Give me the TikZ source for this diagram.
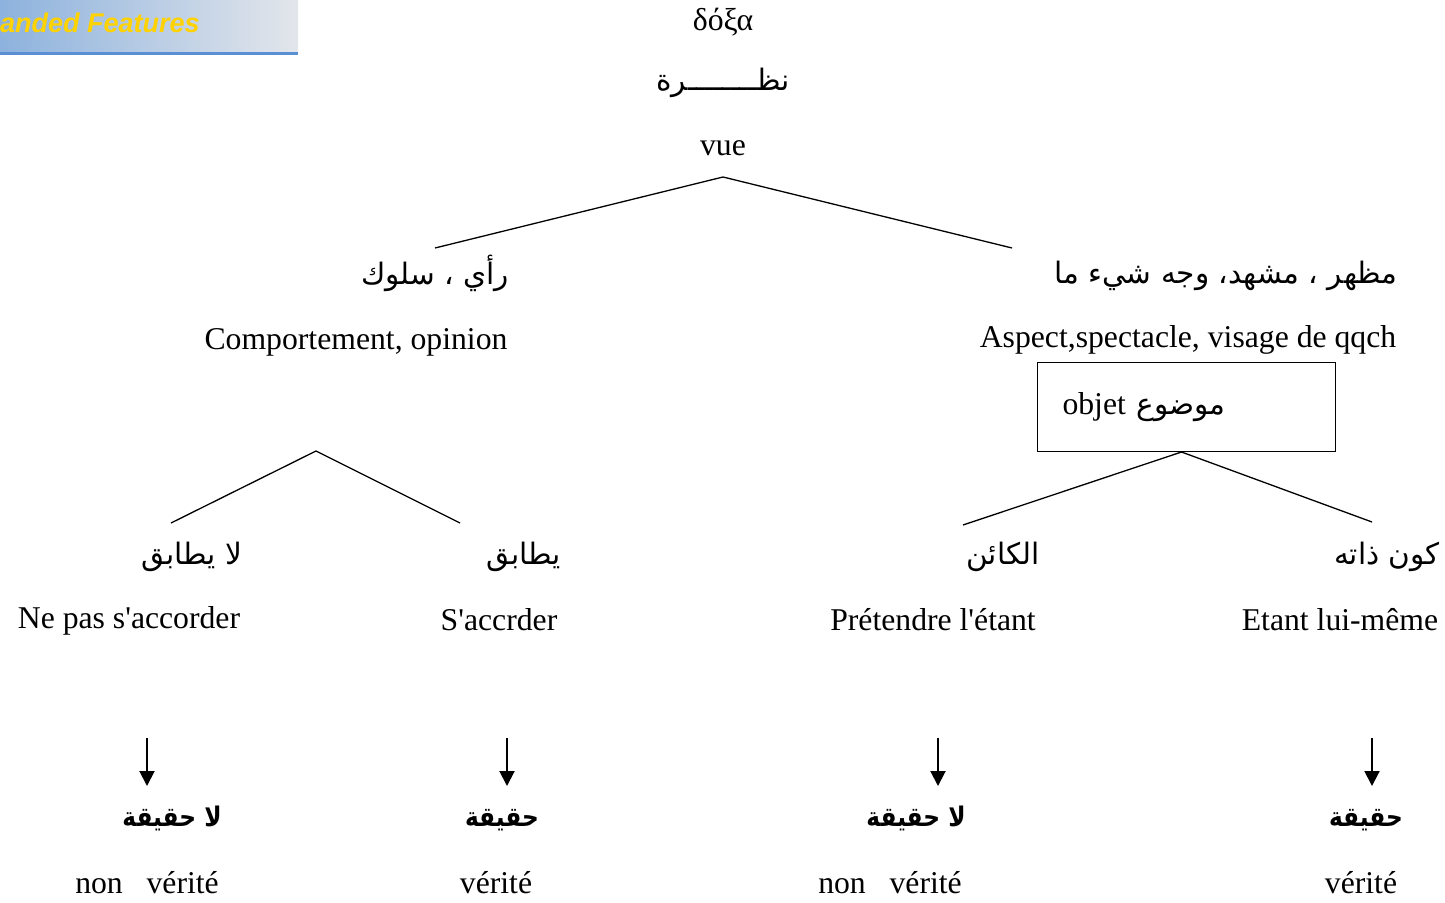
\documentclass[tikz,border=0pt]{standalone}
\usepackage{fontspec}
\setmainfont{Liberation Serif}
\newfontfamily\arabicfont[Script=Arabic]{DejaVu Sans}
\newfontfamily\arabicbold[Script=Arabic,FakeStretch=0.86]{DejaVu Sans Bold}
\newfontfamily\bannerfont{Liberation Sans}
\TeXXeTstate=1
\usetikzlibrary{arrows.meta}
\definecolor{bannerleft}{HTML}{8DB2DD}
\definecolor{bannerright}{HTML}{E3E6EB}
\definecolor{bannerline}{HTML}{5B8FD4}
\definecolor{bannertext}{HTML}{FFD200}
\newcommand{\q}{\textquotesingle}
\begin{document}
\begin{tikzpicture}[x=1pt,y=-1pt,
  lat/.style={font=\fontsize{31.7}{36}\selectfont, inner sep=0pt, anchor=base},
  ar/.style={font=\arabicfont\fontsize{29.5}{34}\selectfont, inner sep=0pt, anchor=base},
  arb/.style={font=\arabicbold\fontsize{27}{31}\selectfont, inner sep=0pt, anchor=base},
  branch/.style={line width=1.3pt},
  down/.style={line width=2pt, -{Triangle[width=15pt,length=15pt]}},
  objbox/.style={draw, line width=1pt, anchor=north west, minimum width=298pt,
    minimum height=89pt, text width=248pt, inner xsep=25pt, align=left,
    font=\fontsize{31.7}{36}\selectfont}]
\useasboundingbox (0,0) rectangle (1445,902);
\fill[white] (0,0) rectangle (1445,902);

% header banner
\shade[left color=bannerleft, right color=bannerright] (0,0) rectangle (298,52);
\fill[bannerline] (0,52) rectangle (298,55);
\node[font=\bannerfont\bfseries\itshape\fontsize{27}{30}\selectfont, text=bannertext,
  inner sep=0pt, anchor=base west] (banner) at (0,32) {anded Features};

% root
\node[lat] (doxa) at (723,30) {δόξα};
\node[ar] (nazra) at (723,90) {\beginR نظــــــــرة\endR};
\node[lat] (vue) at (723,155) {vue};
\coordinate (top) at (723,177);

% first level
\node[ar] (rai) at (435,284) {\beginR رأي ، سلوك\endR};
\node[lat] (comp) at (356,349) {Comportement, opinion};
\node[ar] (mazhar) at (1226,283) {\beginR مظهر ، مشهد، وجه شيء ما\endR};
\node[lat] (aspect) at (1188,347) {Aspect,spectacle, visage de qqch};
\node[objbox] (objet) at (1037,362) {objet {\arabicfont\fontsize{29.5}{34}\selectfont\beginR موضوع\endR}};
\coordinate (l1) at (435,248);
\coordinate (r1) at (1012,248);
\draw[branch] (l1) -- (top) -- (r1);

% left subtree
\coordinate (ltop) at (316,451);
\coordinate (ll) at (171,523);
\coordinate (lr) at (460,523);
\draw[branch] (ll) -- (ltop) -- (lr);
\node[ar] (layutabiq) at (192,564) {\beginR لا يطابق\endR};
\node[ar] (yutabiq) at (524,564) {\beginR يطابق\endR};
\node[lat] (nepas) at (129,628) {Ne pas s\q accorder};
\node[lat] (saccr) at (499,630) {S\q accrder};

% right subtree
\coordinate (rl) at (963,525);
\coordinate (rr) at (1372,522);
\draw[branch] (rl) -- ([xshift=-5pt]objet.south) -- (rr);
\node[ar] (kaen) at (1003,564) {\beginR الكائن\endR};
\node[ar] (kawn) at (1387,564) {\beginR كون ذاته\endR};
\node[lat] (pret) at (933,630) {Prétendre l\q étant};
\node[lat] (etant) at (1340,630) {Etant lui-même};

% arrows to the verdicts
\coordinate (a1) at (147,738); \coordinate (b1) at (147,786);
\coordinate (a2) at (507,738); \coordinate (b2) at (507,786);
\coordinate (a3) at (938,738); \coordinate (b3) at (938,786);
\coordinate (a4) at (1372,738); \coordinate (b4) at (1372,786);
\draw[down] (a1) -- (b1);
\draw[down] (a2) -- (b2);
\draw[down] (a3) -- (b3);
\draw[down] (a4) -- (b4);

\node[arb] (h1) at (172,826) {\beginR لا حقيقة\endR};
\node[arb] (h2) at (502,826) {\beginR حقيقة\endR};
\node[arb] (h3) at (916,826) {\beginR لا حقيقة\endR};
\node[arb] (h4) at (1366,826) {\beginR حقيقة\endR};

\node[lat] (v1) at (147,893) {non\ \ \ vérité};
\node[lat] (v2) at (496,893) {vérité};
\node[lat] (v3) at (890,893) {non\ \ \ vérité};
\node[lat] (v4) at (1361,893) {vérité};
\end{tikzpicture}
\end{document}
